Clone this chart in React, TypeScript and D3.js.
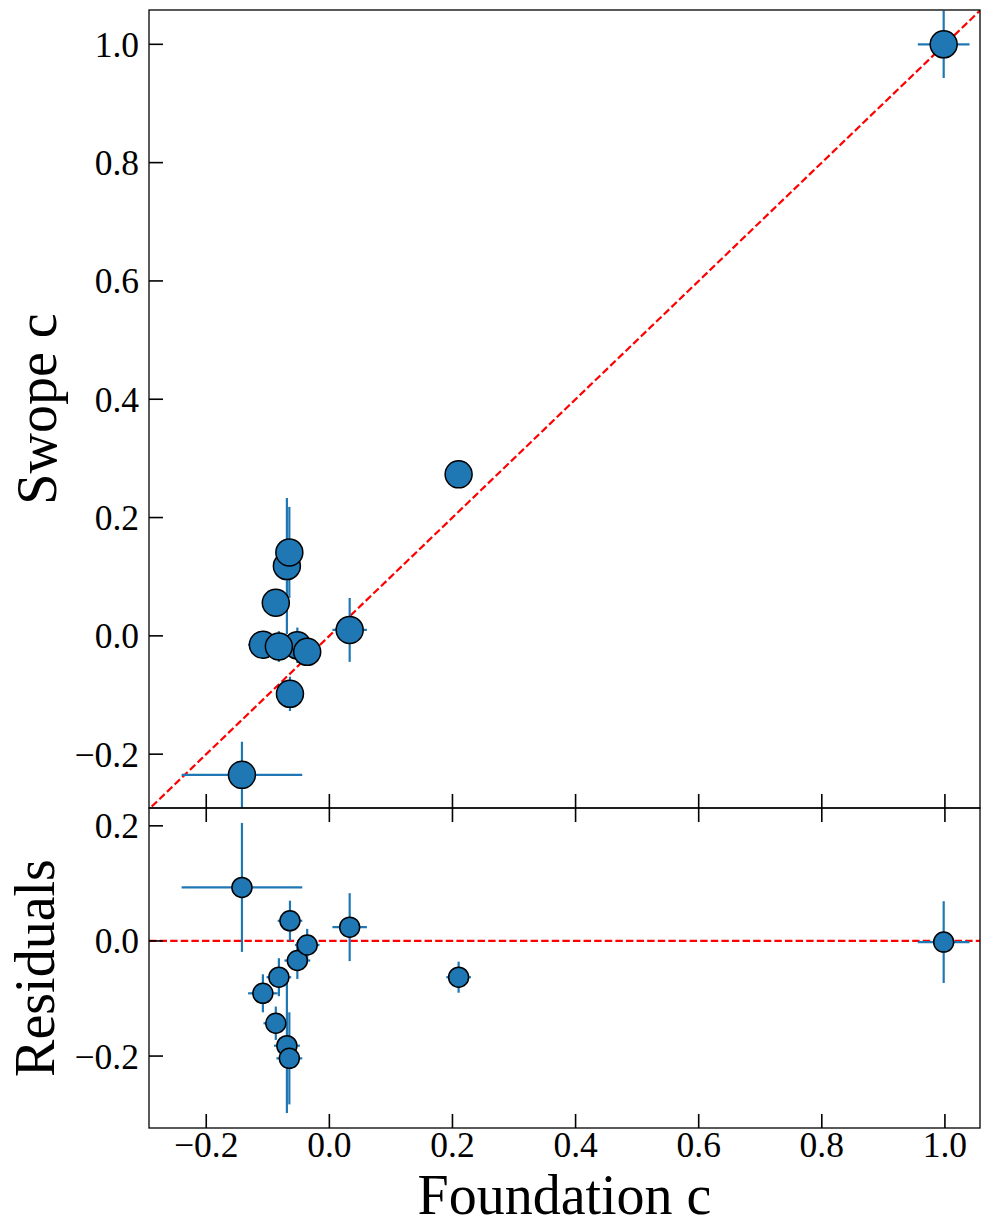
import React from "react";
import * as d3 from "d3";

// Per-object colour parameter c measured in two photometric systems.
const foundationC = [-0.142, 0.210, 0.033, -0.069, -0.065, -0.087, -0.108, -0.052, -0.082, -0.036, -0.064, 0.998];
const foundationErr = [0.098, 0.020, 0.028, 0.021, 0.021, 0.020, 0.024, 0.021, 0.020, 0.020, 0.020, 0.042];
const swopeC = [-0.235, 0.273, 0.010, 0.118, 0.141, 0.056, -0.015, -0.016, -0.018, -0.027, -0.098, 1.000];
const swopeErr = [0.056, 0.018, 0.054, 0.115, 0.077, 0.022, 0.023, 0.030, 0.026, 0.020, 0.029, 0.057];
// Foundation minus Swope
const residuals = [0.093, -0.063, 0.024, -0.182, -0.204, -0.143, -0.091, -0.034, -0.063, -0.007, 0.035, -0.002];
const residualErr = [0.112, 0.027, 0.059, 0.117, 0.080, 0.029, 0.033, 0.032, 0.033, 0.028, 0.035, 0.071];

const xTicks = [-0.2, 0.0, 0.2, 0.4, 0.6, 0.8, 1.0];
const yTicksTop = [-0.2, 0.0, 0.2, 0.4, 0.6, 0.8, 1.0];
const yTicksBottom = [-0.2, 0.0, 0.2];

const xDomain: [number, number] = [-0.293, 1.057];
const yDomainTop: [number, number] = [-0.291, 1.058];
const yDomainBottom: [number, number] = [-0.325, 0.231];

const W = 981;
const H = 1226;
const left = 149;
const right = 980;
const topY0 = 10;
const split = 808;
const botY1 = 1128;

const FONT = "'Liberation Serif', 'Times New Roman', 'DejaVu Serif', serif";
const BLUE = "#1f77b4";
const TICK = 14;
const TICK_FS = 35.5;
const LABEL_FS = 56;

const fmt = (v: number) => {
  const s = Math.abs(v).toFixed(1);
  return v < -1e-9 ? "\u2212" + s : s;
};

export default function App() {
  const x = d3.scaleLinear().domain(xDomain).range([left, right]);
  const yTop = d3.scaleLinear().domain(yDomainTop).range([split, topY0]);
  const yBot = d3.scaleLinear().domain(yDomainBottom).range([botY1, split]);

  const idx = d3.range(foundationC.length);

  const diag = d3.line<number>()
    .x((d) => x(d))
    .y((d) => yTop(d));
  const lo = Math.max(xDomain[0], yDomainTop[0]) - 0.01;
  const hi = Math.min(xDomain[1], yDomainTop[1]) + 0.01;

  const panel = (
    yScale: d3.ScaleLinear<number, number>,
    ys: number[],
    yErr: number[],
    r: number,
    clipId: string
  ) => (
    <g clipPath={`url(#${clipId})`}>
      {idx.map((i) => (
        <g key={"eb" + i} stroke={BLUE} strokeWidth={2.2}>
          <line x1={x(foundationC[i] - foundationErr[i])} x2={x(foundationC[i] + foundationErr[i])}
            y1={yScale(ys[i])} y2={yScale(ys[i])} />
          <line x1={x(foundationC[i])} x2={x(foundationC[i])}
            y1={yScale(ys[i] - yErr[i])} y2={yScale(ys[i] + yErr[i])} />
        </g>
      ))}
      {idx.map((i) => (
        <circle key={"m" + i} cx={x(foundationC[i])} cy={yScale(ys[i])} r={r}
          fill={BLUE} stroke="#000" strokeWidth={1.5} />
      ))}
    </g>
  );

  const yTickGroup = (yScale: d3.ScaleLinear<number, number>, ticks: number[]) =>
    ticks.map((t) => (
      <g key={"yt" + t}>
        <line x1={left} x2={left + TICK} y1={yScale(t)} y2={yScale(t)} stroke="#000" strokeWidth={1.6} />
        <text x={left - 10} y={yScale(t) + 12.5} textAnchor="end" fontSize={TICK_FS} fontFamily={FONT} fill="#000">
          {fmt(t)}
        </text>
      </g>
    ));

  return (
    <svg width={W} height={H} style={{ position: "absolute", left: 0, top: 0, background: "#fff" }}>
      <defs>
        <clipPath id="clipTop">
          <rect x={left} y={topY0} width={right - left} height={split - topY0} />
        </clipPath>
        <clipPath id="clipBottom">
          <rect x={left} y={split} width={right - left} height={botY1 - split} />
        </clipPath>
      </defs>
      <rect x={0} y={0} width={W} height={H} fill="#fff" />

      {/* one-to-one reference line */}
      <g clipPath="url(#clipTop)">
        <path d={diag([lo, hi]) ?? ""} fill="none" stroke="red" strokeWidth={2.2} strokeDasharray="7.4 3.2" />
      </g>
      {/* zero residual line */}
      <g clipPath="url(#clipBottom)">
        <line x1={left} x2={right} y1={yBot(0)} y2={yBot(0)} stroke="red" strokeWidth={2.2} strokeDasharray="7.4 3.2" />
      </g>

      {panel(yTop, swopeC, swopeErr, 13.5, "clipTop")}
      {panel(yBot, residuals, residualErr, 10, "clipBottom")}

      {/* frames */}
      <rect x={left} y={topY0} width={right - left} height={split - topY0} fill="none" stroke="#000" strokeWidth={1.3} />
      <rect x={left} y={split} width={right - left} height={botY1 - split} fill="none" stroke="#000" strokeWidth={1.3} />

      {/* x ticks on the shared edge and the bottom */}
      {xTicks.map((t) => (
        <g key={"xt" + t} stroke="#000" strokeWidth={1.6}>
          <line x1={x(t)} x2={x(t)} y1={split - TICK} y2={split + TICK} />
          <line x1={x(t)} x2={x(t)} y1={botY1 - TICK} y2={botY1} />
        </g>
      ))}
      {xTicks.map((t) => (
        <text key={"xl" + t} x={x(t)} y={1157} textAnchor="middle" fontSize={TICK_FS} fontFamily={FONT} fill="#000">
          {fmt(t)}
        </text>
      ))}

      {yTickGroup(yTop, yTicksTop)}
      {yTickGroup(yBot, yTicksBottom)}

      {/* axis labels */}
      <text x={(left + right) / 2} y={1213.5} textAnchor="middle" fontSize={LABEL_FS} fontFamily={FONT} fill="#000">
        Foundation c
      </text>
      <text transform={`translate(56, ${(topY0 + split) / 2}) rotate(-90)`} textAnchor="middle"
        fontSize={LABEL_FS} fontFamily={FONT} fill="#000">
        Swope c
      </text>
      <text transform={`translate(54, ${(split + botY1) / 2}) rotate(-90)`} textAnchor="middle"
        fontSize={LABEL_FS} fontFamily={FONT} fill="#000">
        Residuals
      </text>
    </svg>
  );
}
